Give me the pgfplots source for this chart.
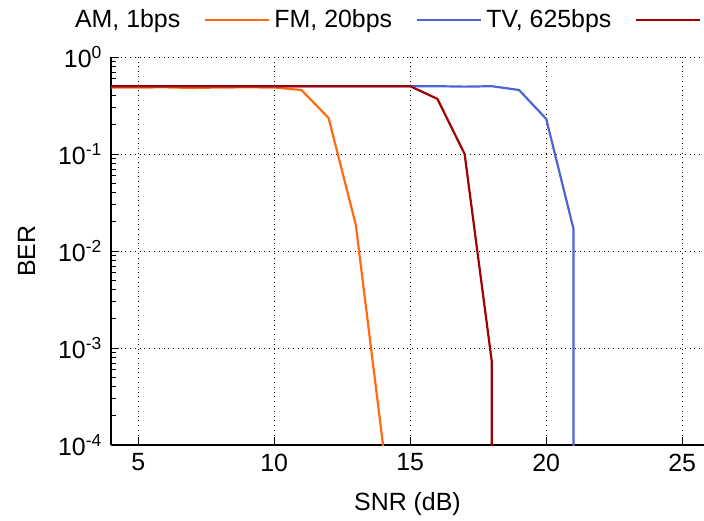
\documentclass[border=0pt]{standalone}
\usepackage{fontspec}
\setmainfont{Liberation Sans}
\usepackage{pgfplots}
\pgfplotsset{compat=1.18}
\definecolor{amorange}{HTML}{FF6A13}
\definecolor{fmblue}{HTML}{4F63D9}
\definecolor{tvred}{HTML}{A00000}
\begin{document}
\fontsize{12.5}{15}\selectfont
\begin{tikzpicture}
\begin{semilogyaxis}[
  scale only axis, width=296.5bp, height=194bp,
  xmin=4, xmax=25.8, ymin=1e-4, ymax=1,
  axis x line*=bottom, axis y line*=left,
  axis line style={black, line width=0.8bp},
  xtick={5,10,15,20,25},
  ytick={1e-4,1e-3,1e-2,1e-1,1},
  yticklabels={10\textsuperscript{-4},10\textsuperscript{-3},10\textsuperscript{-2},10\textsuperscript{-1},10\textsuperscript{0}},
  /pgf/number format/assume math mode=true,
  tick align=inside, major tick length=4bp, minor tick length=2.5bp,
  tick style={black, line width=0.5bp},
  grid=major, major grid style={black, dotted, line width=0.5bp},
  tick label style={font=\fontsize{12.5}{15}\selectfont},
  label style={font=\fontsize{12.5}{15}\selectfont},
  xlabel={SNR (dB)}, ylabel={BER},
  xlabel style={yshift=-2bp},
  ylabel style={yshift=3bp},
  legend columns=3, legend plot pos=right,
  legend style={draw=none, fill=none, at={(axis description cs:-0.078,1.095)}, anchor=west,
    font=\fontsize{12.5}{15}\selectfont,
    /tikz/every odd column/.append style={column sep=10bp}},
  legend image code/.code={\draw[#1] (2bp,0bp) -- (34bp,0bp);},
  every axis plot/.append style={line width=1.1bp},
]
\addplot[amorange] coordinates {
  (4,0.485) (5,0.485) (6,0.487) (7,0.48) (8,0.485) (9,0.487) (10,0.485)
  (11,0.457) (12,0.235) (13,0.0186) (14,1e-4) (14,1e-8)};
\addlegendentry{AM, 1bps}
\addplot[fmblue] coordinates {
  (4,0.5) (5,0.5) (6,0.5) (7,0.5) (8,0.5) (9,0.5) (10,0.5) (11,0.5) (12,0.5)
  (13,0.5) (14,0.5) (15,0.5) (16,0.5) (17,0.495) (18,0.5)
  (19,0.457) (20,0.23) (21,0.017) (21,1e-8)};
\addlegendentry{FM, 20bps}
\addplot[tvred] coordinates {
  (4,0.5) (5,0.5) (6,0.5) (7,0.5) (8,0.5) (9,0.5) (10,0.5) (11,0.5) (12,0.5)
  (13,0.5) (14,0.5) (15,0.5) (16,0.37) (17,0.1) (18,7.2e-4) (18,1e-8)};
\addlegendentry{TV, 625bps}
\end{semilogyaxis}
\pgfresetboundingbox
\path[use as bounding box] ([xshift=-55.5bp,yshift=-37.5bp]current axis.south west) rectangle ([yshift=28.5bp]current axis.north east);
\end{tikzpicture}
\end{document}
